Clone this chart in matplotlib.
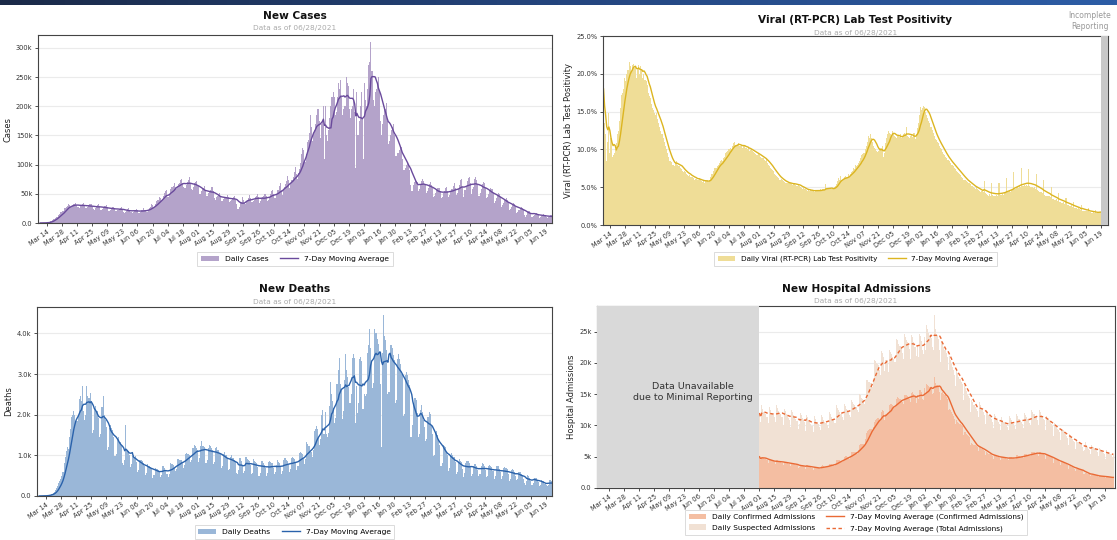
import numpy as np
import pandas as pd
import matplotlib
matplotlib.use("Agg")
import matplotlib.pyplot as plt
import matplotlib.dates as mdates
from matplotlib.ticker import FuncFormatter

# ---- data (daily values, weeks start on Sunday) ----
cases_start = "2020-03-08"
# new cases, thousands
cases_k = [
    0.1, 0.1, 0.2, 0.3, 0.4, 0.6, 0.8,  1.0, 1.5, 2.2, 3.0, 4.5, 6.0, 7.5,
    9, 10, 11, 13, 16, 18, 19,          20, 21, 25, 27, 29, 32, 31,
    27, 28, 30, 32, 33, 34, 31,         27, 26, 29, 31, 33, 34, 30,
    26, 25, 28, 30, 32, 33, 29,         24, 23, 26, 29, 30, 33, 29,
    23, 22, 24, 27, 29, 30, 27,         21, 20, 23, 26, 27, 28, 25,
    20, 20, 22, 24, 26, 28, 24,         19, 17, 18, 21, 24, 25, 23,
    18, 17, 19, 21, 23, 24, 22,         17, 17, 19, 22, 23, 25, 23,
    18, 19, 23, 26, 28, 32, 30,         26, 28, 33, 37, 39, 45, 42,
    38, 41, 46, 51, 54, 56, 45,         44, 50, 59, 61, 64, 68, 62,
    58, 61, 66, 68, 73, 76, 68,         62, 60, 65, 70, 74, 78, 68,
    58, 57, 62, 68, 70, 72, 63,         50, 49, 54, 58, 60, 63, 56,
    47, 46, 51, 54, 56, 62, 54,         42, 40, 44, 46, 48, 51, 46,
    38, 38, 41, 44, 45, 48, 44,         36, 37, 39, 42, 44, 47, 40,
    32, 24, 27, 34, 36, 45, 40,         34, 33, 38, 40, 43, 48, 42,
    36, 38, 40, 45, 46, 49, 44,         35, 37, 42, 44, 46, 50, 47,
    37, 40, 44, 50, 54, 57, 50,         42, 43, 50, 56, 63, 68, 57,
    48, 57, 62, 66, 72, 80, 73,         60, 67, 74, 78, 88, 96, 84,
    75, 85, 92, 102, 118, 128, 125,     105, 118, 138, 142, 155, 185, 165,
    140, 155, 160, 170, 185, 195, 175,  145, 170, 175, 200, 110, 200, 150,
    140, 160, 180, 200, 215, 225, 215,  185, 190, 215, 240, 230, 245, 215,
    185, 195, 200, 250, 240, 235, 195,  180, 195, 200, 230, 190, 95, 225,
    150, 175, 200, 225, 180, 110, 240,  210, 200, 230, 270, 275, 310, 260,
    210, 200, 225, 230, 240, 250, 225,  175, 150, 170, 185, 195, 205, 175,
    135, 140, 150, 160, 165, 170, 150,  115, 115, 120, 125, 130, 130, 110,
    90, 90, 95, 100, 105, 100, 90,      65, 55, 65, 70, 72, 72, 70,
    55, 58, 65, 72, 75, 72, 65,         52, 55, 60, 67, 70, 65, 60,
    45, 47, 52, 56, 60, 60, 55,         42, 45, 52, 55, 60, 62, 55,
    45, 48, 54, 58, 64, 68, 60,         48, 52, 58, 65, 73, 75, 62,
    45, 56, 62, 72, 77, 78, 68,         50, 58, 62, 76, 78, 74, 65,
    47, 52, 58, 66, 70, 68, 60,         42, 44, 50, 56, 60, 58, 52,
    35, 38, 43, 48, 52, 50, 44,         28, 30, 35, 39, 42, 40, 36,
    22, 24, 28, 31, 34, 33, 28,         17, 19, 22, 26, 28, 26, 22,
    13, 11, 14, 18, 20, 21, 17,         11, 12, 14, 16, 17, 16, 13,
    9, 11, 12, 14, 15, 13, 11,          8, 10, 11, 13, 13,
]

# new deaths
deaths = [
    1, 2, 3, 4, 6, 8, 9,                       12, 18, 25, 35, 50, 60, 80,
    110, 140, 190, 250, 320, 380, 420,         500, 600, 800, 950, 1100, 1200, 1150,
    1450, 1650, 1950, 2000, 2100, 2000, 1850,  1850, 1970, 2390, 2450, 2330, 2700, 2090,
    1870, 1990, 2700, 2470, 2410, 2530, 2290,  1560, 1620, 2160, 2220, 2100, 2100, 1920,
    1460, 1520, 2180, 2450, 2000, 1880, 1700,  1140, 1200, 1680, 1740, 1680, 1620, 1440,
    980, 1040, 1400, 1460, 1310, 1340, 1220,   800, 770, 890, 1750, 1130, 1100, 1010,
    720, 780, 990, 1020, 960, 990, 840,        580, 640, 880, 880, 850, 820, 730,
    510, 570, 780, 750, 750, 720, 660,         450, 510, 690, 660, 660, 630, 600,
    460, 520, 730, 730, 700, 640, 550,         460, 550, 820, 790, 790, 760, 700,
    620, 670, 920, 920, 890, 890, 840,         680, 770, 1040, 1070, 1040, 1040, 1010,
    830, 890, 1190, 1250, 1220, 1190, 1130,    840, 930, 1230, 1360, 1230, 1230, 1200,
    800, 890, 1190, 1250, 1220, 1190, 1130,    780, 840, 1170, 1200, 1140, 1140, 1050,
    700, 730, 1030, 1090, 1000, 1000, 940,     640, 670, 970, 1000, 940, 880, 850,
    570, 540, 630, 930, 930, 870, 750,         560, 620, 950, 920, 890, 860, 770,
    540, 570, 900, 870, 840, 810, 720,         500, 560, 860, 860, 800, 770, 680,
    500, 560, 830, 860, 830, 800, 680,         530, 590, 770, 890, 830, 800, 710,
    550, 610, 880, 940, 880, 850, 760,         600, 660, 930, 960, 930, 900, 810,
    640, 730, 1060, 1090, 1060, 1030, 910,     780, 900, 1320, 1290, 1230, 1230, 1080,
    970, 1120, 1600, 1660, 1720, 1660, 1420,   1250, 1400, 2000, 2120, 1520, 2060, 1520,
    1440, 1560, 2220, 2800, 2520, 2340, 2160,  1800, 1920, 2760, 3100, 3400, 2760, 2640,
    1900, 2080, 2860, 3500, 3100, 2920, 2680,  2300, 2500, 3400, 3500, 3400, 1800, 2700,
    2050, 2290, 3370, 3430, 3310, 2140, 2510,  2450, 2510, 3530, 3710, 4100, 3650, 3290,
    2660, 2780, 4100, 4000, 3860, 3740, 3560,  2750, 1200, 3530, 4450, 3930, 3830, 3590,
    2510, 2570, 3710, 3710, 3650, 3470, 3350,  2290, 2350, 3370, 3490, 3370, 3250, 3010,
    1960, 2020, 2980, 3040, 2980, 2860, 2740,  1450, 1450, 1750, 2290, 2410, 2350, 2050,
    1460, 1520, 2120, 2240, 2060, 1880, 1700,  1350, 1410, 1950, 2070, 2010, 1710, 1530,
    980, 1010, 1550, 1610, 1490, 1370, 1250,   750, 810, 1260, 1230, 1200, 1080, 1020,
    620, 680, 1010, 1070, 1010, 950, 830,      540, 600, 840, 900, 870, 840, 660,
    470, 560, 800, 860, 860, 800, 710,         480, 540, 750, 780, 780, 750, 630,
    480, 540, 750, 810, 780, 750, 630,         470, 500, 740, 770, 740, 710, 620,
    430, 490, 730, 730, 730, 670, 580,         420, 480, 690, 720, 690, 660, 540,
    370, 430, 640, 670, 640, 580, 490,         390, 410, 580, 580, 550, 520, 430,
    310, 280, 370, 510, 480, 450, 370,         280, 320, 450, 450, 450, 380, 340,
    240, 260, 390, 360, 360, 300, 260,         240, 280, 400, 390, 360,
]

# viral (RT-PCR) lab test positivity, percent
positivity = [
    18.0, 13.5, 12.0, 8.5, 11.0, 14.8, 9.5,    11.5, 9.0, 9.2, 9.5, 10.0, 10.8, 12.0,
    12.5, 13.8, 15.5, 17.2, 17.5, 18.0, 19.5,  19.0, 20.0, 20.5, 21.5, 21.0, 20.2, 21.2,
    21.3, 20.8, 21.0, 19.5, 20.5, 21.2, 20.0,  21.0, 20.5, 19.5, 20.0, 19.2, 19.0, 18.5,
    17.5, 17.0, 16.8, 16.0, 15.5, 15.2, 14.8,  14.5, 14.8, 14.0, 13.5, 13.0, 12.5, 12.0,
    11.5, 11.0, 10.5, 10.0, 9.5, 9.0, 8.5,     8.5, 8.3, 8.0, 8.0, 7.8, 8.2, 8.5,
    8.0, 7.8, 7.5, 7.4, 7.2, 7.0, 7.2,         7.0, 6.8, 6.6, 6.5, 6.6, 6.4, 6.3,
    6.4, 6.2, 6.0, 6.1, 5.9, 6.0, 6.2,         6.0, 5.8, 5.7, 5.8, 5.6, 5.9, 6.0,
    5.9, 5.7, 6.0, 6.4, 6.8, 7.2, 7.5,         7.6, 7.5, 7.8, 8.0, 8.2, 8.5, 8.6,
    8.4, 8.8, 9.0, 9.5, 9.6, 9.8, 10.0,        10.2, 10.0, 10.5, 10.8, 11.0, 10.6, 10.4,
    10.6, 10.8, 10.4, 10.5, 10.6, 10.2, 10.5,  10.4, 10.2, 10.0, 10.2, 9.8, 9.9, 10.0,
    9.8, 9.6, 9.5, 9.4, 9.3, 9.2, 9.4,         9.2, 9.0, 8.8, 8.8, 8.6, 8.5, 8.7,
    8.2, 8.0, 7.8, 7.6, 7.4, 7.3, 7.2,         6.8, 6.6, 6.5, 6.3, 6.2, 6.0, 6.1,
    5.9, 5.8, 5.7, 5.6, 5.5, 5.6, 5.5,         5.5, 5.6, 5.4, 5.3, 5.4, 5.5, 5.3,
    5.2, 5.4, 5.2, 5.0, 4.9, 4.8, 4.9,         4.7, 4.8, 4.6, 4.5, 4.6, 4.5, 4.7,
    4.6, 4.5, 4.4, 4.5, 4.6, 4.5, 4.6,         4.6, 4.7, 4.5, 4.8, 4.7, 4.6, 5.4,
    4.9, 4.8, 4.7, 4.9, 4.8, 4.7, 4.9,         5.0, 5.2, 5.4, 5.8, 6.2, 6.0, 6.5,
    6.0, 5.9, 6.1, 6.3, 6.5, 6.4, 6.8,         6.5, 6.8, 7.0, 7.2, 7.5, 7.4, 8.0,
    7.8, 8.0, 8.2, 8.5, 8.8, 9.2, 9.4,         9.5, 10.0, 10.5, 11.0, 11.8, 11.5, 12.0,
    11.5, 11.0, 10.5, 10.2, 10.0, 9.8, 9.6,    9.8, 10.0, 10.2, 10.5, 9.0, 9.5, 10.8,
    11.5, 12.0, 12.4, 12.2, 12.0, 11.8, 12.5,  12.0, 11.8, 11.6, 11.5, 11.8, 11.7, 12.0,
    11.5, 11.8, 12.0, 12.2, 11.9, 13.0, 11.8,  11.6, 11.5, 11.8, 12.0, 11.6, 12.2, 11.4,
    12.0, 12.8, 13.5, 14.5, 15.6, 15.2, 15.5,  15.8, 15.6, 15.0, 14.5, 14.2, 13.8, 13.5,
    13.0, 12.6, 12.2, 11.8, 11.4, 11.2, 11.0,  10.8, 10.5, 10.2, 10.0, 9.6, 9.4, 9.2,
    9.0, 8.8, 8.6, 8.4, 8.2, 8.0, 7.9,         7.8, 7.6, 7.4, 7.2, 7.0, 6.9, 6.8,
    6.6, 6.4, 6.2, 6.0, 5.9, 5.8, 5.7,         5.6, 5.6, 5.4, 5.2, 5.1, 5.0, 4.9,
    4.8, 5.0, 4.7, 4.6, 4.5, 4.4, 4.5,         4.3, 5.8, 4.2, 4.1, 4.0, 3.9, 4.1,
    3.9, 5.5, 4.0, 3.9, 3.8, 3.8, 4.0,         3.9, 5.6, 4.0, 4.0, 4.1, 4.0, 4.2,
    4.2, 6.2, 4.3, 4.4, 4.5, 4.4, 4.6,         4.6, 7.0, 4.8, 4.9, 5.0, 4.9, 5.1,
    5.0, 7.5, 5.1, 5.2, 5.3, 5.2, 5.3,         5.1, 7.4, 5.1, 5.0, 5.0, 4.9, 5.0,
    4.8, 6.8, 4.6, 4.5, 4.4, 4.3, 4.4,         4.2, 5.9, 4.0, 3.9, 3.8, 3.8, 3.9,
    3.7, 5.0, 3.5, 3.4, 3.3, 3.3, 3.4,         3.2, 4.2, 3.1, 3.0, 2.9, 2.9, 3.0,
    2.8, 3.6, 2.7, 2.6, 2.5, 2.5, 2.6,         2.4, 3.0, 2.3, 2.2, 2.2, 2.1, 2.2,
    2.1, 2.0, 2.6, 1.9, 1.9, 1.8, 1.9,         1.8, 2.2, 1.7, 1.7, 1.6, 1.6, 1.7,
    1.6, 2.0, 1.6, 1.6, 1.7, 1.7, 1.8,         1.9, 2.2, 1.9, 2.0, 2.1,
]

# new hospital admissions, thousands (from Aug 01 2020)
hosp_start = "2020-08-01"
hosp_confirmed = [
    5.0,
    4.4, 5.0, 4.9, 4.8, 4.7, 4.6, 4.5,         4.0, 4.5, 4.5, 4.4, 4.3, 4.3, 4.1,
    3.9, 4.4, 4.4, 4.3, 4.2, 4.2, 4.0,         3.7, 4.2, 4.2, 4.1, 4.0, 3.9, 3.8,
    3.5, 4.0, 4.0, 3.9, 3.8, 3.7, 3.6,         3.2, 3.4, 3.7, 3.7, 3.6, 3.5, 3.4,
    3.1, 3.6, 3.6, 3.5, 3.4, 3.3, 3.2,         2.9, 3.4, 3.4, 3.3, 3.2, 3.2, 3.0,
    3.1, 3.5, 3.6, 3.5, 3.4, 3.4, 3.3,         3.4, 3.9, 3.9, 3.8, 3.7, 3.7, 3.5,
    3.9, 4.4, 4.5, 4.5, 4.4, 4.3, 4.1,         4.5, 5.0, 5.1, 5.1, 5.0, 4.9, 4.7,
    5.1, 5.7, 5.8, 5.8, 5.8, 5.7, 5.4,         6.1, 6.8, 7.0, 7.0, 7.0, 7.0, 6.8,
    7.8, 8.8, 9.1, 9.3, 9.5, 9.5, 9.2,         9.8, 10.6, 10.9, 11.1, 11.2, 11.2, 10.8,
    10.8, 12.2, 12.4, 12.3, 10.9, 11.8, 12.0,  12.0, 13.2, 13.4, 13.4, 13.2, 13.1, 12.8,
    12.9, 14.2, 14.5, 14.4, 14.2, 14.1, 13.7,  13.4, 14.8, 14.9, 14.9, 14.7, 14.6, 14.2,
    13.8, 15.2, 15.3, 15.1, 14.5, 13.6, 14.9,  14.2, 15.6, 15.7, 15.3, 14.2, 14.0, 16.0,
    15.0, 16.6, 16.5, 16.3, 16.2, 15.9, 15.0,  15.2, 17.8, 16.8, 16.5, 16.4, 16.1, 15.3,
    14.0, 15.2, 15.4, 15.1, 14.8, 14.6, 14.2,  12.5, 12.6, 12.4, 12.1, 11.8, 11.5, 11.1,
    10.2, 10.8, 10.6, 10.4, 10.2, 10.0, 9.9,   8.4, 9.0, 8.9, 8.7, 8.5, 8.3, 8.2,
    6.9, 7.2, 7.1, 6.9, 6.8, 6.7, 6.6,         5.9, 6.5, 6.4, 6.3, 6.2, 6.1, 5.9,
    5.2, 5.7, 5.6, 5.5, 5.4, 5.3, 5.1,         4.7, 5.3, 5.2, 5.1, 5.0, 4.9, 4.8,
    4.5, 5.0, 5.0, 4.9, 4.8, 4.7, 4.6,         4.5, 5.0, 5.0, 4.9, 4.8, 4.8, 4.6,
    4.6, 5.2, 5.2, 5.1, 5.0, 5.0, 4.9,         4.8, 5.5, 5.5, 5.4, 5.3, 5.3, 5.1,
    5.1, 5.8, 5.8, 5.7, 5.6, 5.6, 5.4,         5.1, 5.7, 5.7, 5.6, 5.5, 5.4, 5.3,
    4.6, 5.2, 5.2, 5.1, 5.0, 4.9, 4.8,         4.0, 4.6, 4.6, 4.5, 4.4, 4.3, 4.2,
    3.6, 4.1, 4.1, 4.0, 3.9, 3.8, 3.7,         3.0, 3.5, 3.5, 3.4, 3.3, 3.2, 3.1,
    2.7, 3.0, 3.0, 3.0, 2.9, 2.8, 2.8,         2.3, 2.2, 2.4, 2.4, 2.3, 2.3, 2.2,
    1.9, 2.1, 2.1, 2.0, 2.0, 2.0, 1.9,         1.7, 1.9, 1.9, 1.9, 1.9, 1.8, 1.8,
    1.6, 1.8, 1.8, 1.7, 1.7, 1.7, 1.6,
    1.6,
]
hosp_suspected = [
    7.0,
    6.2, 8.2, 7.8, 7.4, 7.3, 7.2, 6.9,         6.4, 8.4, 8.0, 7.6, 7.5, 7.4, 7.2,
    6.6, 8.8, 8.4, 8.0, 7.8, 7.6, 7.4,         6.3, 8.5, 8.1, 7.7, 7.5, 7.3, 7.1,
    6.3, 8.5, 8.1, 7.7, 7.5, 7.3, 7.1,         6.2, 6.9, 8.3, 8.0, 7.6, 7.4, 7.1,
    6.0, 8.1, 7.7, 7.3, 7.1, 7.0, 6.7,         6.0, 8.1, 7.7, 7.3, 7.1, 7.0, 6.7,
    6.1, 8.2, 7.8, 7.4, 7.2, 7.0, 6.8,         6.2, 8.3, 7.9, 7.5, 7.3, 7.1, 6.9,
    6.5, 8.8, 8.3, 7.9, 7.7, 7.5, 7.2,         6.3, 8.4, 8.0, 7.6, 7.4, 7.2, 7.0,
    6.3, 8.4, 8.0, 7.6, 7.4, 7.2, 7.0,         6.1, 8.2, 7.8, 7.4, 7.2, 7.0, 6.7,
    6.4, 8.5, 8.1, 7.7, 7.5, 7.3, 7.0,         7.4, 9.9, 9.4, 8.9, 8.7, 8.5, 8.1,
    7.2, 9.7, 9.2, 8.7, 7.8, 8.6, 8.5,         6.6, 8.9, 8.4, 8.0, 7.8, 7.6, 7.3,
    7.2, 9.7, 9.2, 8.7, 8.5, 8.3, 7.9,         7.3, 9.8, 9.3, 8.8, 8.6, 8.4, 8.0,
    6.9, 9.2, 8.8, 8.3, 8.0, 7.5, 8.0,         6.8, 9.1, 8.6, 8.2, 7.8, 7.4, 8.1,
    7.1, 9.5, 9.0, 8.5, 8.3, 8.1, 7.6,         6.8, 9.8, 8.6, 8.2, 8.0, 7.8, 6.8,
    6.1, 8.2, 7.8, 7.4, 7.2, 7.0, 6.7,         6.4, 8.5, 8.1, 7.7, 7.5, 7.3, 7.0,
    6.1, 8.2, 7.8, 7.4, 7.2, 7.0, 6.7,         5.6, 7.5, 7.1, 6.8, 6.6, 6.4, 6.2,
    5.2, 6.9, 6.6, 6.3, 6.1, 5.9, 5.7,         5.4, 7.2, 6.8, 6.5, 6.3, 6.1, 5.8,
    5.0, 6.7, 6.4, 6.1, 5.9, 5.7, 5.5,         4.9, 6.6, 6.3, 6.0, 5.8, 5.6, 5.4,
    4.7, 6.3, 5.9, 5.7, 5.5, 5.3, 5.1,         4.8, 6.5, 6.2, 5.9, 5.7, 5.5, 5.3,
    4.9, 6.6, 6.3, 6.0, 5.8, 5.6, 5.4,         4.8, 6.5, 6.2, 5.9, 5.7, 5.5, 5.3,
    5.0, 6.7, 6.4, 6.1, 5.9, 5.7, 5.5,         5.0, 6.7, 6.4, 6.1, 5.9, 5.7, 5.5,
    4.7, 6.3, 5.9, 5.7, 5.5, 5.3, 5.1,         4.3, 5.8, 5.5, 5.3, 5.1, 4.9, 4.8,
    4.0, 5.4, 5.1, 4.9, 4.7, 4.5, 4.3,         3.8, 5.1, 4.9, 4.7, 4.5, 4.3, 4.2,
    3.5, 4.7, 4.4, 4.2, 4.1, 4.0, 3.8,         3.6, 3.9, 4.9, 4.4, 4.2, 4.0, 3.9,
    3.6, 4.8, 4.5, 4.3, 4.2, 4.0, 3.9,         3.4, 4.5, 4.3, 4.1, 3.9, 3.8, 3.7,
    3.1, 4.2, 4.0, 3.8, 3.7, 3.6, 3.4,
    3.6,
]

tick_dates = pd.date_range("2020-03-14", "2021-06-19", freq="14D")
subtitle = "Data as of 06/28/2021"

# ---- style ----
plt.rcParams["font.family"] = ["DejaVu Sans"]
W, H = 1117, 540
fig = plt.figure(figsize=(W / 100, H / 100), dpi=100)


def px_axes(left, top, right, bottom):
    return fig.add_axes([left / W, 1 - bottom / H, (right - left) / W, (bottom - top) / H])


def style(ax, xlim, ylim, yticks, yfmt, ylabel):
    ax.set_xlim(pd.Timestamp(xlim[0]), pd.Timestamp(xlim[1]))
    ax.set_ylim(*ylim)
    ax.set_yticks(yticks)
    ax.yaxis.set_major_formatter(FuncFormatter(yfmt))
    ax.set_xticks(tick_dates)
    ax.xaxis.set_major_formatter(mdates.DateFormatter("%b %d"))
    plt.setp(ax.get_xticklabels(), rotation=35, ha="right", rotation_mode="anchor")
    ax.tick_params(labelsize=4.8, length=2.5, width=0.6, pad=1.5, colors="#333333")
    ax.grid(axis="y", color="#ebebeb", lw=0.8)
    ax.set_axisbelow(True)
    for s in ax.spines.values():
        s.set_color("#444444")
        s.set_linewidth(0.8)
    ax.set_ylabel(ylabel, fontsize=6, labelpad=2.5, color="#222222")


def titles(ax, title, y_title, y_sub):
    cx = ax.get_position().x0 + ax.get_position().width / 2
    fig.text(cx, 1 - y_title / H, title, ha="center", va="center",
             fontsize=7.6, fontweight="bold", color="#111111")
    fig.text(cx, 1 - y_sub / H, subtitle, ha="center", va="center",
             fontsize=5.3, color="#aaaaaa")


def legend(ax, y, handles, labels, fontsize=5.4, x=0.5, spacing=0.35):
    leg = ax.legend(handles, labels, loc="center", bbox_to_anchor=(x, y), ncol=2,
                    fontsize=fontsize, frameon=True, fancybox=False, edgecolor="#cccccc",
                    handlelength=2.4, columnspacing=1.5, borderpad=0.5,
                    handletextpad=0.8, labelspacing=spacing)
    leg.get_frame().set_linewidth(0.6)


def ma(vals):
    return pd.Series(vals).rolling(7, min_periods=1).mean().to_numpy()


k0 = lambda v, p: "0.0" if v == 0 else f"{v:.0f}k"

# top screenshot band
band = fig.add_axes([0, 1 - 5 / H, 1, 5 / H])
band.imshow(np.linspace(0, 1, 256)[None, :], aspect="auto",
            cmap=matplotlib.colors.LinearSegmentedColormap.from_list("b", ["#1b2a48", "#24457e", "#2d5da6"]))
band.axis("off")

# ---- New Cases ----
ax1 = px_axes(38, 35, 552, 223)
d1 = pd.date_range(cases_start, periods=len(cases_k))
b1 = ax1.bar(d1, cases_k, width=1.0, color="#b4a3ca", lw=0)
l1, = ax1.plot(d1, ma(cases_k), color="#6a4a9c", lw=1.0)
style(ax1, ("2020-03-06", "2021-06-24 12:00"), (0, 322), range(0, 301, 50), k0, "Cases")
titles(ax1, "New Cases", 16, 28)
legend(ax1, -0.19, [b1, l1], ["Daily Cases", "7-Day Moving Average"])

# ---- Positivity ----
ax2 = px_axes(603, 36, 1108, 225)
d2 = pd.date_range(cases_start, periods=len(positivity))
b2 = ax2.bar(d2, positivity, width=1.0, color="#efdd97", lw=0)
l2, = ax2.plot(d2, ma(positivity), color="#dcb521", lw=1.0)
ax2.axvspan(pd.Timestamp("2021-06-19"), pd.Timestamp("2021-06-26"), color="#c8c8c8", lw=0, zorder=3)
style(ax2, ("2020-03-07 12:00", "2021-06-25 12:00"), (0, 25), range(0, 26, 5),
      lambda v, p: f"{v:.1f}%", "Viral (RT-PCR) Lab Test Positivity")
titles(ax2, "Viral (RT-PCR) Lab Test Positivity", 20, 33)
fig.text(1090 / W, 1 - 21 / H, "Incomplete\nReporting", ha="center", va="center",
         fontsize=5.5, color="#999999", linespacing=1.2)
legend(ax2, -0.18, [b2, l2], ["Daily Viral (RT-PCR) Lab Test Positivity", "7-Day Moving Average"],
       fontsize=5.2)

# ---- New Deaths ----
ax3 = px_axes(37, 307, 552, 496)
d3 = pd.date_range(cases_start, periods=len(deaths))
b3 = ax3.bar(d3, deaths, width=1.0, color="#9ab7d8", lw=0)
l3, = ax3.plot(d3, ma(deaths), color="#2a62ab", lw=1.0)
style(ax3, ("2020-03-06", "2021-06-24 12:00"), (0, 4650), range(0, 4001, 1000),
      lambda v, p: "0.0" if v == 0 else f"{v / 1000:.1f}k", "Deaths")
titles(ax3, "New Deaths", 289, 302)
legend(ax3, -0.19, [b3, l3], ["Daily Deaths", "7-Day Moving Average"])

# ---- New Hospital Admissions ----
ax4 = px_axes(597, 306, 1115, 488)
d4 = pd.date_range(hosp_start, periods=len(hosp_confirmed))
total = np.array(hosp_confirmed) + np.array(hosp_suspected)
b4a = ax4.bar(d4, hosp_confirmed, width=1.0, color="#f4bea2", lw=0)
b4b = ax4.bar(d4, hosp_suspected, bottom=hosp_confirmed, width=1.0, color="#f1e1d4", lw=0)
l4a, = ax4.plot(d4, ma(hosp_confirmed), color="#ea6a35", lw=1.0)
l4b, = ax4.plot(d4, ma(total), color="#ea6a35", lw=1.0, ls=(0, (2.5, 1.8)))
ax4.axvspan(pd.Timestamp("2020-02-20"), pd.Timestamp(hosp_start) - pd.Timedelta(hours=12),
            color="#d9d9d9", lw=0, zorder=3)
ax4.text(pd.Timestamp("2020-05-31"), 15.3, "Data Unavailable\ndue to Minimal Reporting",
         ha="center", va="center", fontsize=6.8, color="#333333", zorder=4, linespacing=1.25)
style(ax4, ("2020-03-02 12:00", "2021-06-28 12:00"), (0, 29.1), range(0, 26, 5), k0,
      "Hospital Admissions")
titles(ax4, "New Hospital Admissions", 289, 301)
legend(ax4, -0.19, [b4a, b4b, l4a, l4b],
       ["Daily Confirmed Admissions", "Daily Suspected Admissions",
        "7-Day Moving Average (Confirmed Admissions)", "7-Day Moving Average (Total Admissions)"],
       fontsize=5.3, spacing=0.65)

fig.savefig("out.png", dpi=100)
